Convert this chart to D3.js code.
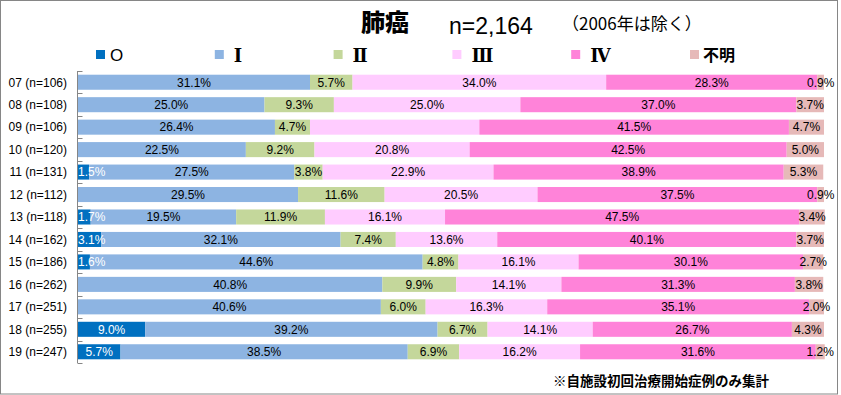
<!DOCTYPE html>
<html lang="ja">
<head>
<meta charset="UTF-8">
<title>肺癌 病期別割合</title>
<style>
html, body { margin: 0; padding: 0; background: #fff; }
body { font-family: 'Liberation Sans', Arial, sans-serif; }
svg text { fill: #000; }
.axis line { stroke: #868686; }
</style>
</head>
<body>
<svg width="841" height="395"></svg>
<script src="https://cdnjs.cloudflare.com/ajax/libs/d3/7.8.5/d3.min.js"></script>
<script>
// rows, top to bottom
const years = ['07 (n=106)', '08 (n=108)', '09 (n=106)', '10 (n=120)', '11 (n=131)', '12 (n=112)',
  '13 (n=118)', '14 (n=162)', '15 (n=186)', '16 (n=262)', '17 (n=251)', '18 (n=255)', '19 (n=247)'];

const stages = ['O', 'Ⅰ', 'Ⅱ', 'Ⅲ', 'Ⅳ', '不明'];
const stageColors = ['#0070C0', '#8DB4E2', '#C4D79B', '#FFCCFF', '#FF83D9', '#E6B9B8'];

// percentage per stage, one array per row
const stage0   = [0, 0, 0, 0, 1.5, 0, 1.7, 3.1, 1.6, 0, 0, 9.0, 5.7];
const stage1   = [31.1, 25.0, 26.4, 22.5, 27.5, 29.5, 19.5, 32.1, 44.6, 40.8, 40.6, 39.2, 38.5];
const stage2   = [5.7, 9.3, 4.7, 9.2, 3.8, 11.6, 11.9, 7.4, 4.8, 9.9, 6.0, 6.7, 6.9];
const stage3   = [34.0, 25.0, 22.7, 20.8, 22.9, 20.5, 16.1, 13.6, 16.1, 14.1, 16.3, 14.1, 16.2];
const stage4   = [28.3, 37.0, 41.5, 42.5, 38.9, 37.5, 47.5, 40.1, 30.1, 31.3, 35.1, 26.7, 31.6];
const unknown  = [0.9, 3.7, 4.7, 5.0, 5.3, 0.9, 3.4, 3.7, 2.7, 3.8, 2.0, 4.3, 1.2];

const series = [stage0, stage1, stage2, stage3, stage4, unknown];

// the original chart shows no label on this segment
const hiddenLabels = ['09 (n=106)|Ⅲ'];

const svg = d3.select('svg');

svg.append('rect')
  .attr('x', 0.5).attr('y', 0.5)
  .attr('width', 837).attr('height', 393.5)
  .attr('fill', '#fff')
  .attr('stroke', '#868686');

const x = d3.scaleLinear().domain([0, 100]).range([78, 824]);
const y = d3.scaleBand().domain(years).range([71, 363]).paddingInner(0.33).paddingOuter(0.165);

const rows = years.map((yr, i) => {
  let acc = 0;
  return series.map((s, k) => {
    const v = s[i];
    const seg = { year: yr, k: k, v: v, x0: acc, x1: acc + v };
    acc += v;
    return seg;
  });
});

const segs = rows.flat().filter(d => d.v > 0);

svg.append('g')
  .selectAll('rect')
  .data(segs)
  .enter()
  .append('rect')
  .attr('x', d => x(d.x0))
  .attr('y', d => y(d.year))
  .attr('width', d => x(d.x1) - x(d.x0))
  .attr('height', y.bandwidth())
  .attr('fill', d => stageColors[d.k]);

svg.append('g')
  .selectAll('text')
  .data(segs.filter(d => hiddenLabels.indexOf(d.year + '|' + stages[d.k]) < 0))
  .enter()
  .append('text')
  .attr('x', d => (x(d.x0) + x(d.x1)) / 2)
  .attr('y', d => y(d.year) + y.bandwidth() / 2)
  .attr('dy', '0.36em')
  .attr('text-anchor', 'middle')
  .attr('font-size', 12)
  .style('fill', d => d.k === 0 ? '#fff' : '#000')
  .text(d => d.v.toFixed(1) + '%')
  .each(function (d) {
    // keep labels inside the plot on the left, like Excel does
    const w = this.getComputedTextLength();
    const cx = (x(d.x0) + x(d.x1)) / 2;
    if (cx - w / 2 < x.range()[0]) {
      d3.select(this).attr('text-anchor', 'start').attr('x', x.range()[0]);
    }
  });

// category axis with ticks between rows
const yAxis = svg.append('g')
  .attr('class', 'axis')
  .attr('transform', 'translate(77.5,0)');
yAxis.append('line')
  .attr('y1', y.range()[0]).attr('y2', y.range()[1]);
yAxis.selectAll('.tick')
  .data(d3.range(years.length + 1))
  .enter()
  .append('line')
  .attr('x1', 0).attr('x2', 5)
  .attr('y1', i => Math.round(y.range()[0] + i * y.step()) + 0.5)
  .attr('y2', i => Math.round(y.range()[0] + i * y.step()) + 0.5);

svg.append('g')
  .selectAll('text')
  .data(years)
  .enter()
  .append('text')
  .attr('x', 67)
  .attr('y', d => y(d) + y.bandwidth() / 2)
  .attr('dy', '0.36em')
  .attr('text-anchor', 'end')
  .attr('font-size', 12)
  .text(d => d);

// title
svg.append('text')
  .attr('x', 361).attr('y', 31)
  .attr('font-family', "'Noto Sans CJK JP'")
  .attr('font-weight', 900)
  .attr('font-size', 24)
  .text('肺癌');
svg.append('text')
  .attr('x', 449).attr('y', 34)
  .attr('font-size', 23)
  .text('n=2,164');
svg.append('text')
  .attr('x', 562).attr('y', 30)
  .attr('font-family', "'Noto Sans CJK JP'")
  .attr('font-size', 17)
  .text('（2006年は除く）');

// legend
const legend = svg.append('g')
  .selectAll('g')
  .data(stages)
  .enter()
  .append('g')
  .attr('transform', (d, i) => 'translate(' + (96 + i * 118.8) + ',50)');
legend.append('rect')
  .attr('width', 9).attr('height', 9)
  .attr('fill', (d, i) => stageColors[i]);
legend.append('text')
  .attr('x', (d, i) => i === 0 ? 14 : (i === 5 ? 13 : 19))
  .attr('y', (d, i) => i === 0 || i === 5 ? 11 : 12)
  .attr('font-family', (d, i) => i === 0 ? "'Liberation Sans'" : (i === 5 ? "'Noto Sans CJK JP'" : "'DejaVu Serif'"))
  .attr('font-weight', (d, i) => i === 0 ? 'normal' : 'bold')
  .attr('font-size', (d, i) => i === 0 ? 17 : (i === 5 ? 16 : 18))
  .text(d => d);

// footnote
svg.append('text')
  .attr('x', 553).attr('y', 386)
  .attr('font-family', "'Noto Sans CJK JP'")
  .attr('font-weight', 'bold')
  .attr('font-size', 13.5)
  .text('※自施設初回治療開始症例のみ集計');
</script>
</body>
</html>
